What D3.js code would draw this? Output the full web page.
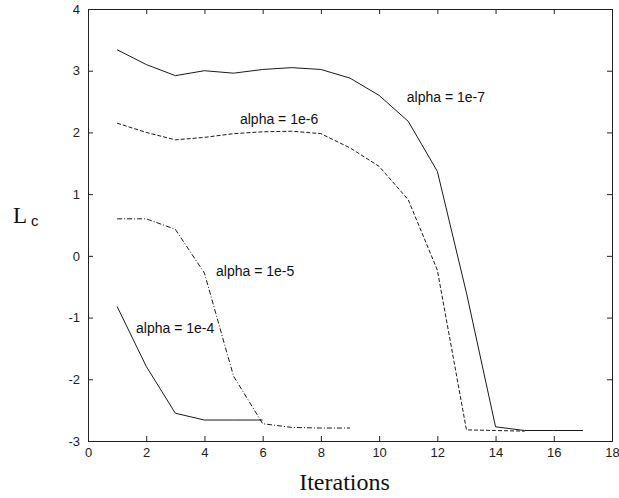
<!DOCTYPE html>
<html>
<head>
<meta charset="utf-8">
<script src="https://cdn.jsdelivr.net/npm/d3@7"></script>
<style>
  body { margin: 0; background: #fff; }
  svg { display: block; }
  .tick text { font-family: "Liberation Sans", Arial, sans-serif; font-size: 13px; fill: #222; }
  .lbl { font-family: "Liberation Sans", Arial, sans-serif; font-size: 14px; fill: #111; }
</style>
</head>
<body>
<script>
// iterations on x
const iters7 = [1,2,3,4,5,6,7,8,9,10,11,12,13,14,15,16,17]
const alpha7 = [3.34,3.1,2.92,3.0,2.96,3.02,3.05,3.02,2.88,2.6,2.18,1.37,-0.6,-2.77,-2.83,-2.83,-2.83]

const iters6 = [1,2,3,4,5,6,7,8,9,10,11,12,13,14,15]
const alpha6 = [2.15,2.0,1.88,1.92,1.98,2.01,2.02,1.98,1.75,1.45,0.91,-0.23,-2.82,-2.83,-2.84]

const iters5 = [1,2,3,4,5,6,7,8,9]
const alpha5 = [0.6,0.6,0.43,-0.28,-1.95,-2.72,-2.78,-2.79,-2.79]

const iters4 = [1,2,3,4,5,6]
const alpha4 = [-0.82,-1.79,-2.55,-2.66,-2.66,-2.66]

const xTicks = [0,2,4,6,8,10,12,14,16,18]
const yTicks = [-3,-2,-1,0,1,2,3,4]

// label text + anchor point in data units
const labels = ["alpha = 1e-7","alpha = 1e-6","alpha = 1e-5","alpha = 1e-4"]
const labelX = [10.95,5.22,4.4,1.65]
const labelY = [2.5,2.13,-0.33,-1.25]

const width = 619, height = 498
const margin = {top: 9, right: 7, bottom: 57, left: 88}

const svg = d3.select("body").append("svg")
  .attr("width", width)
  .attr("height", height)

const x = d3.scaleLinear().domain([0, 18]).range([margin.left, width - margin.right])
const y = d3.scaleLinear().domain([-3, 4]).range([height - margin.bottom, margin.top])

const fmt = function(d){ return d < 0 ? "-" + Math.abs(d) : "" + d }

// axes, ticks point inward like the matlab box
svg.append("g")
  .attr("transform", "translate(0," + y(-3) + ")")
  .call(d3.axisBottom(x).tickValues(xTicks).tickSize(-5).tickPadding(7).tickFormat(fmt))
svg.append("g")
  .attr("transform", "translate(0," + y(4) + ")")
  .call(d3.axisTop(x).tickValues(xTicks).tickSize(-5).tickFormat(""))
svg.append("g")
  .attr("transform", "translate(" + x(0) + ",0)")
  .call(d3.axisLeft(y).tickValues(yTicks).tickSize(-5).tickPadding(8).tickFormat(fmt))
svg.append("g")
  .attr("transform", "translate(" + x(18) + ",0)")
  .call(d3.axisRight(y).tickValues(yTicks).tickSize(-5).tickFormat(""))

svg.selectAll(".domain").attr("stroke", "#222")
svg.selectAll(".tick line").attr("stroke", "#222")

const line = d3.line()
  .x(function(d) { return x(d[0]) })
  .y(function(d) { return y(d[1]) })

const series = [
  {xs: iters7, ys: alpha7, dash: null},
  {xs: iters6, ys: alpha6, dash: "4,2"},
  {xs: iters5, ys: alpha5, dash: "5,2,1,2"},
  {xs: iters4, ys: alpha4, dash: null}
]

series.forEach(function(s){
  svg.append("path")
    .attr("d", line(d3.zip(s.xs, s.ys)))
    .attr("fill", "none")
    .attr("stroke", "#1a1a1a")
    .attr("stroke-width", 1)
    .attr("stroke-dasharray", s.dash)
})

labels.forEach(function(t, i){
  svg.append("text")
    .attr("class", "lbl")
    .attr("x", x(labelX[i]))
    .attr("y", y(labelY[i]))
    .text(t)
})

svg.append("text")
  .text("Iterations")
  .attr("x", 344.5)
  .attr("y", 490)
  .attr("text-anchor", "middle")
  .style("font-family", "'Liberation Serif', 'Times New Roman', serif")
  .style("font-size", "24px")
  .style("fill", "#111")

const lc = svg.append("text")
  .attr("x", 13)
  .attr("y", 223)
  .style("font-family", "'Liberation Serif', 'Times New Roman', serif")
  .style("font-size", "23px")
  .style("fill", "#111")
lc.append("tspan").text("L")
lc.append("tspan")
  .attr("dx", 4)
  .attr("dy", 3)
  .style("font-family", "'Liberation Sans', Arial, sans-serif")
  .style("font-size", "15px")
  .text("c")
</script>
</body>
</html>
